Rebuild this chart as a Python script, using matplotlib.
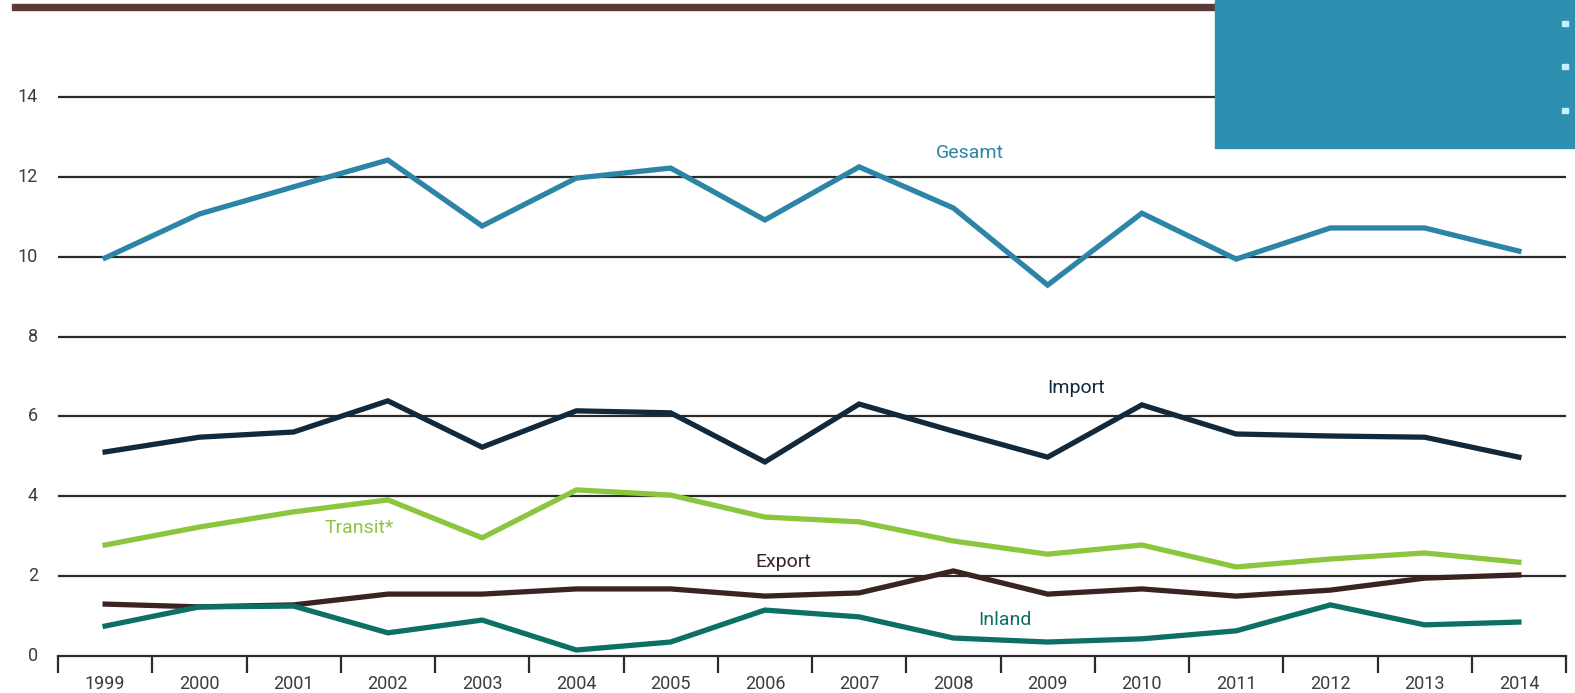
import matplotlib
matplotlib.use("Agg")
import matplotlib.pyplot as plt
from matplotlib.patches import Rectangle

# ------------------------
# Data
# ------------------------
years = ["1999", "2000", "2001", "2002", "2003", "2004", "2005", "2006",
         "2007", "2008", "2009", "2010", "2011", "2012", "2013", "2014"]

gesamt = [9.97, 11.07, 11.75, 12.42, 10.77, 11.97, 12.22, 10.92,
          12.25, 11.22, 9.29, 11.09, 9.94, 10.72, 10.72, 10.14]
import_ = [5.11, 5.48, 5.61, 6.39, 5.23, 6.14, 6.09, 4.86,
           6.31, 5.63, 4.98, 6.29, 5.56, 5.51, 5.48, 4.98]
transit = [2.78, 3.23, 3.61, 3.91, 2.96, 4.16, 4.03, 3.48,
           3.36, 2.88, 2.55, 2.78, 2.23, 2.43, 2.58, 2.35]
export = [1.30, 1.23, 1.28, 1.55, 1.55, 1.68, 1.68, 1.50,
          1.58, 2.13, 1.55, 1.68, 1.50, 1.65, 1.95, 2.03]
inland = [0.75, 1.23, 1.25, 0.58, 0.90, 0.15, 0.35, 1.15,
          0.98, 0.45, 0.35, 0.43, 0.63, 1.28, 0.78, 0.85]

yticks = [0, 2, 4, 6, 8, 10, 12, 14]

C_GESAMT = "#2c84a6"
C_IMPORT = "#12293b"
C_TRANSIT = "#8cc63f"
C_EXPORT = "#3a2422"
C_INLAND = "#0d7064"
C_TEXT = "#3c3c3c"

plt.rcParams["font.family"] = ["Roboto", "DejaVu Sans"]

W, H = 1575, 693
fig = plt.figure(figsize=(W / 100, H / 100), dpi=100)

# axes: x from px 58 to 1566, y=0 at px 656, 14 at px 97
ax = fig.add_axes([58 / W, (H - 656) / H, (1566 - 58) / W, 655 / H])
unit = (656 - 97) / 14
ax.set_xlim(-0.5, len(years) - 0.5)
ax.set_ylim(0, 655 / unit)

for s in ["top", "right", "left"]:
    ax.spines[s].set_visible(False)
ax.spines["bottom"].set_color("#2a2a2a")
ax.spines["bottom"].set_linewidth(1.6)

# grid lines
for v in yticks[1:]:
    ax.axhline(v, color="#2a2a2a", lw=1.6, zorder=1)

# x ticks at boundaries, labels centred
x = list(range(len(years)))
ax.set_xticks([i - 0.5 for i in range(len(years) + 1)])
ax.set_xticklabels([])
ax.tick_params(axis="x", length=12, width=1.6, color="#2a2a2a", direction="out")
for i, y in enumerate(years):
    ax.text(i, -0.7, y, ha="center", va="center", fontsize=13, color=C_TEXT,
            clip_on=False)

ax.set_yticks([])
for v in yticks:
    fig.text(38 / W, 1 - (656 - v * unit) / H, str(v), ha="right", va="center",
             fontsize=13, color=C_TEXT)

lw = 3.8
ax.plot(x, gesamt, color=C_GESAMT, lw=lw, zorder=3, solid_joinstyle="miter")
ax.plot(x, import_, color=C_IMPORT, lw=lw, zorder=3, solid_joinstyle="miter")
ax.plot(x, transit, color=C_TRANSIT, lw=lw, zorder=3, solid_joinstyle="miter")
ax.plot(x, export, color=C_EXPORT, lw=lw, zorder=3, solid_joinstyle="miter")
ax.plot(x, inland, color=C_INLAND, lw=lw, zorder=3, solid_joinstyle="miter")

# series labels
lab = dict(fontsize=14, ha="center", va="center")
ax.text(9.17, 12.6, "Gesamt", color=C_GESAMT, **lab)
ax.text(10.3, 6.7, "Import", color=C_IMPORT, **lab)
ax.text(2.7, 3.2, "Transit*", color=C_TRANSIT, **lab)
ax.text(7.2, 2.35, "Export", color=C_EXPORT, **lab)
ax.text(9.55, 0.9, "Inland", color=C_INLAND, **lab)

# decorative header: brown bar and blue box with dots
fig.patches.append(Rectangle((12 / W, 1 - 10 / H), (1216 - 12) / W, 6 / H,
                             transform=fig.transFigure, color="#5b3a36", zorder=5))
fig.patches.append(Rectangle((1215 / W, 1 - 148 / H), (W - 1215) / W, 148 / H,
                             transform=fig.transFigure, color="#2e8fb0", zorder=5))
for py in [23, 66, 110]:
    fig.patches.append(Rectangle((1562 / W, 1 - (py + 3) / H), 6 / W, 5 / H,
                                 transform=fig.transFigure, color="#c4f2fc", zorder=6))

fig.savefig("out.png", dpi=100)
